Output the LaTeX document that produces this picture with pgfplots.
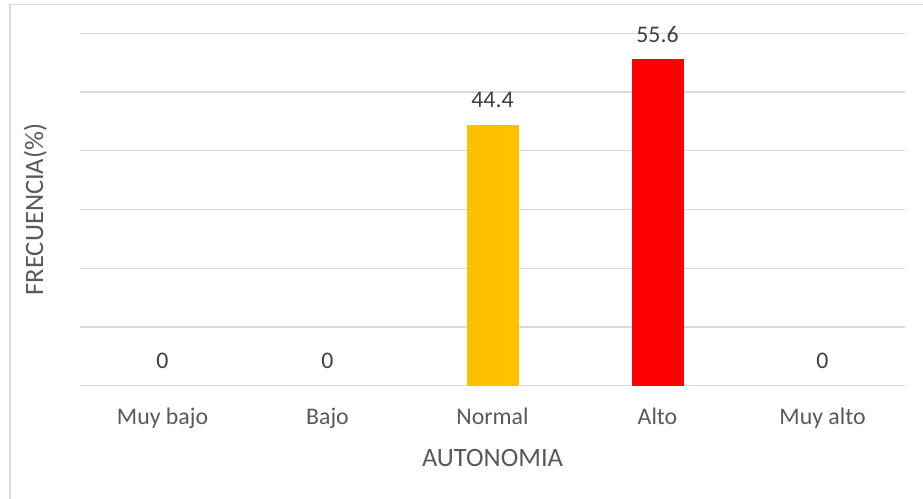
\documentclass[border=0pt]{standalone}
\usepackage{pgfplots}
\pgfplotsset{compat=1.18}
\usepackage{fontspec}
\setmainfont{Carlito}
\definecolor{gridc}{HTML}{D9D9D9}
\definecolor{txtc}{HTML}{595959}
\definecolor{lblc}{HTML}{404040}
\definecolor{amarillo}{HTML}{FFC000}
\definecolor{rojo}{HTML}{FF0000}
\begin{document}
\begin{tikzpicture}
\useasboundingbox (0,0) rectangle (923bp,499bp);
\draw[gridc, line width=1.2bp] (10bp,0) -- (10bp,494.5bp) -- (923bp,494.5bp);
\begin{axis}[
  at={(80bp,113.3bp)}, anchor=south west,
  scale only axis, width=825bp, height=352.4bp,
  xmin=-0.5, xmax=4.5, ymin=0, ymax=60,
  axis line style={draw=none},
  ytick={0,10,...,60}, yticklabels={},
  major tick length=0pt,
  ymajorgrids, grid style={gridc, line width=1.3bp},
  xtick={0,1,2,3,4},
  xticklabels={Muy bajo,Bajo,Normal,Alto,Muy alto},
  xticklabel style={font=\fontsize{23.8bp}{28bp}\selectfont, text=txtc, anchor=base, yshift=-38.5bp},
  xlabel={AUTONOMIA},
  xlabel style={font=\fontsize{26.5bp}{30bp}\selectfont, text=txtc, at={(axis description cs:0.5,0)}, anchor=base, yshift=-80.3bp},
  ybar, bar width=52bp, bar shift=0pt,
  nodes near coords,
  /pgf/number format/assume math mode=true,
  /pgf/number format/fixed, /pgf/number format/precision=1,
  every node near coord/.append style={font=\fontsize{23.8bp}{28bp}\selectfont, text=lblc, anchor=base, yshift=17bp},
  clip=false,
]
\addplot[draw=none, fill=none] coordinates {(0,0) (1,0) (4,0)};
\addplot[draw=none, fill=amarillo] coordinates {(2,44.4)};
\addplot[draw=none, fill=rojo] coordinates {(3,55.6)};
\end{axis}
\node[rotate=90, anchor=base, font=\fontsize{26.5bp}{30bp}\selectfont, text=txtc] at (43bp,289.5bp) {FRECUENCIA(\%)};
\end{tikzpicture}
\end{document}
